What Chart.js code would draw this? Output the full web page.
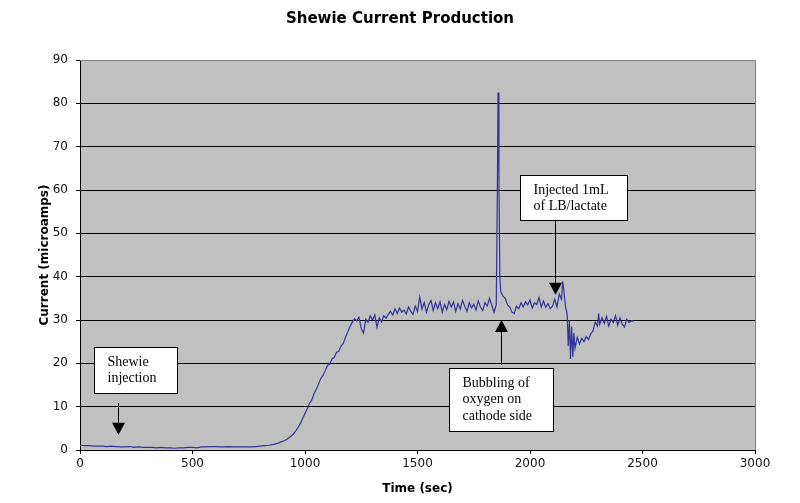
<!DOCTYPE html>
<html><head><meta charset="utf-8">
<script src="https://cdn.jsdelivr.net/npm/chart.js@4"></script>
<style>html,body{margin:0;padding:0;background:#fff}#wrap{width:800px;height:503px;position:relative}</style>
</head><body><div id="wrap"><canvas id="c"></canvas></div>
<script>
const times = [
  0,20,40,60,80,100,120,140,160,180,200,220,240,260,280,300,320,340,360,380,
  400,420,440,460,480,500,520,540,560,580,600,620,640,660,680,700,720,740,760,780,
  800,820,840,860,880,900,
  910,920,930,940,950,960,970,980,990,1000,1010,1020,1030,1040,1050,1060,1070,1080,1090,1100,
  1110,1120,1130,1140,1150,1160,1170,1180,1190,1200,1210,1220,1230,1240,1250,1260,1270,1280,1290,1300,
  1310,1320,1330,1340,1350,1360,1370,1380,1390,1400,1410,1420,1430,1440,1450,1460,1470,1480,1490,1500,
  1510,1520,1530,1540,1550,1560,1570,1580,1590,1600,1610,1620,1630,1640,1650,1660,1670,1680,1690,1700,
  1710,1720,1730,1740,1750,1760,1770,1780,1790,1800,1810,1820,1830,1840,1850,1855,1858,1862,1866,1870,
  1880,1890,1900,1910,1920,1930,1940,1950,1960,1970,1980,1990,2000,2010,2020,2030,2040,2050,2060,2070,
  2080,2090,2100,2110,2120,2130,2140,2145,2150,2158,2165,2170,2175,2180,2185,2190,2195,2200,2210,2220,
  2230,2240,2250,2260,2270,2280,2290,2300,2305,2310,2320,2330,2340,2350,2360,2370,2380,2390,2400,2410,
  2420,2430,2440,2450,2460
];
const current = [
  1.1,1.0,1.0,0.9,0.9,0.9,0.8,0.9,0.8,0.7,0.7,0.8,0.6,0.7,0.6,0.6,0.6,0.5,0.6,0.5,
  0.5,0.4,0.5,0.5,0.6,0.6,0.5,0.7,0.7,0.8,0.8,0.7,0.7,0.8,0.7,0.7,0.7,0.7,0.7,0.8,
  0.9,1.0,1.1,1.3,1.6,2.0,
  2.2,2.5,2.9,3.3,3.8,4.5,5.3,6.2,7.3,8.4,9.5,10.8,11.5,13.0,14.0,15.2,16.5,17.2,18.3,19.5,
  19.8,21.0,21.4,22.5,22.8,24.0,24.6,26.0,27.2,28.5,29.5,30.3,29.8,30.6,28.0,27.0,30.2,29.5,31.0,30.0,
  31.2,28.3,30.5,29.6,31.0,30.4,31.3,32.0,31.2,32.6,31.5,32.8,31.8,32.3,31.4,33.0,32.0,31.3,33.2,32.0,
  35.3,32.5,34.0,31.8,33.5,34.5,32.2,34.0,32.6,34.2,31.8,33.6,32.4,34.3,33.0,34.2,32.0,33.8,32.5,34.5,
  33.2,32.0,34.0,32.8,33.6,32.3,34.4,33.0,32.2,34.0,33.2,35.0,33.4,31.8,33.5,60.0,82.5,62.0,40.0,36.5,
  35.5,35.0,33.5,33.0,31.8,31.5,33.2,32.6,34.0,33.0,34.2,33.5,34.6,32.8,34.0,33.6,35.2,33.0,34.4,32.9,
  33.8,32.6,33.2,34.8,33.0,36.0,34.8,38.9,37.0,33.0,31.5,24.0,30.0,21.0,28.5,21.5,27.0,23.5,26.0,24.5,
  25.8,25.0,26.2,25.5,26.8,27.5,29.5,28.6,31.5,29.0,30.5,29.2,30.8,28.6,30.2,29.4,31.0,28.8,30.5,29.0,
  28.4,30.2,29.4,29.8,29.8
];
const xTicks = [0,500,1000,1500,2000,2500,3000];
const yTicks = [0,10,20,30,40,50,60,70,80,90];
const notes = [
  {lines:["Shewie","injection"], box:[62,431,23.8,13.2], arrowX:169, arrowFrom:10.8, arrowTo:3.5},
  {lines:["Bubbling of","oxygen on","cathode side"], box:[1641,2104,18.9,4.4], arrowX:1873, arrowFrom:19.6, arrowTo:30.0},
  {lines:["Injected 1mL","of LB/lactate"], box:[1957,2433,63.5,53.1], arrowX:2113, arrowFrom:53.1, arrowTo:35.8}
];

const points = times.map((t,i)=>({x:t,y:current[i]}));

const plotBg = {
  id:'plotBg',
  beforeDraw(chart){
    const {ctx, chartArea:a} = chart;
    ctx.save(); ctx.fillStyle='#c0c0c0';
    ctx.fillRect(a.left,a.top,a.right-a.left,a.bottom-a.top);
    ctx.restore();
  },
  afterDatasetsDraw(chart){
    const {ctx, chartArea:a} = chart;
    ctx.save(); ctx.strokeStyle='#808080'; ctx.lineWidth=1;
    ctx.beginPath();
    ctx.moveTo(a.left, Math.round(a.top)+0.5);
    ctx.lineTo(Math.round(a.right)+0.5, Math.round(a.top)+0.5);
    ctx.lineTo(Math.round(a.right)+0.5, a.bottom);
    ctx.stroke(); ctx.restore();
  },
  afterDraw(chart){
    const {ctx} = chart;
    const xs = chart.scales.x, ys = chart.scales.y;
    ctx.save();
    notes.forEach(n=>{
      const x0=Math.round(xs.getPixelForValue(n.box[0]))+0.5, x1=Math.round(xs.getPixelForValue(n.box[1]))+0.5;
      const y0=Math.round(ys.getPixelForValue(n.box[2]))+0.5, y1=Math.round(ys.getPixelForValue(n.box[3]))+0.5;
      ctx.fillStyle='#fff'; ctx.fillRect(x0,y0,x1-x0,y1-y0);
      ctx.strokeStyle='#000'; ctx.lineWidth=1; ctx.strokeRect(x0,y0,x1-x0,y1-y0);
      ctx.fillStyle='#000'; ctx.font='14px "Liberation Serif", "Times New Roman", serif';
      ctx.textBaseline='middle'; ctx.textAlign='left';
      n.lines.forEach((l,i)=>ctx.fillText(l, x0+13, y0+14.5+i*16.5));
      const ax=Math.round(xs.getPixelForValue(n.arrowX))+0.5;
      const yf=ys.getPixelForValue(n.arrowFrom), yt=ys.getPixelForValue(n.arrowTo);
      const dir = yt>yf?1:-1;
      const headH=12, headW=6.5;
      ctx.beginPath(); ctx.moveTo(ax,yf); ctx.lineTo(ax,yt-dir*headH); ctx.stroke();
      ctx.beginPath(); ctx.moveTo(ax,yt); ctx.lineTo(ax-headW,yt-dir*headH); ctx.lineTo(ax+headW,yt-dir*headH); ctx.closePath(); ctx.fill();
    });
    ctx.restore();
  }
};

const tickFont = {family:'"DejaVu Sans", Verdana, sans-serif', size:12};
const titleFont = {family:'"DejaVu Sans", Verdana, sans-serif', size:12, weight:'bold'};

new Chart(document.getElementById('c'), {
  type:'line',
  data:{datasets:[{data:points, borderColor:'#333399', borderWidth:1.2, pointRadius:0, tension:0, fill:false}]},
  options:{
    responsive:true, maintainAspectRatio:false, animation:false,
    layout:{padding:{left:0,right:0,top:0,bottom:0}},
    plugins:{
      legend:{display:false}, tooltip:{enabled:false},
      title:{display:true, text:'Shewie Current Production', color:'#000',
        font:{family:'"DejaVu Sans", Verdana, sans-serif', size:15, weight:'bold'},
        padding:{top:10,bottom:32}}
    },
    scales:{
      x:{type:'linear', min:0, max:3000,
        afterFit(s){ s.height=53; },
        afterBuildTicks(s){ s.ticks = xTicks.map(v=>({value:v})); },
        ticks:{color:'#111', font:tickFont, padding:3, maxRotation:0, callback:v=>String(v)},
        grid:{drawOnChartArea:false, drawTicks:true, tickLength:4, color:'#000'},
        border:{color:'#000'},
        title:{display:true, text:'Time (sec)', color:'#000', font:titleFont, padding:{top:0,bottom:7}}
      },
      y:{min:0, max:90,
        afterFit(s){ s.width=80; },
        afterBuildTicks(s){ s.ticks = yTicks.map(v=>({value:v})); },
        ticks:{color:'#111', font:tickFont, padding:8, callback:v=>String(v)},
        grid:{color:'#000', drawTicks:true, tickLength:4},
        border:{color:'#000'},
        title:{display:true, text:'Current (microamps)', color:'#000', font:titleFont, padding:{top:38,bottom:0}}
      },
      yRight:{position:'right', min:0, max:90,
        afterFit(s){ s.width=45; },
        ticks:{display:false}, grid:{display:false}, border:{display:false}, title:{display:false}
      }
    }
  },
  plugins:[plotBg]
});
</script></body></html>
